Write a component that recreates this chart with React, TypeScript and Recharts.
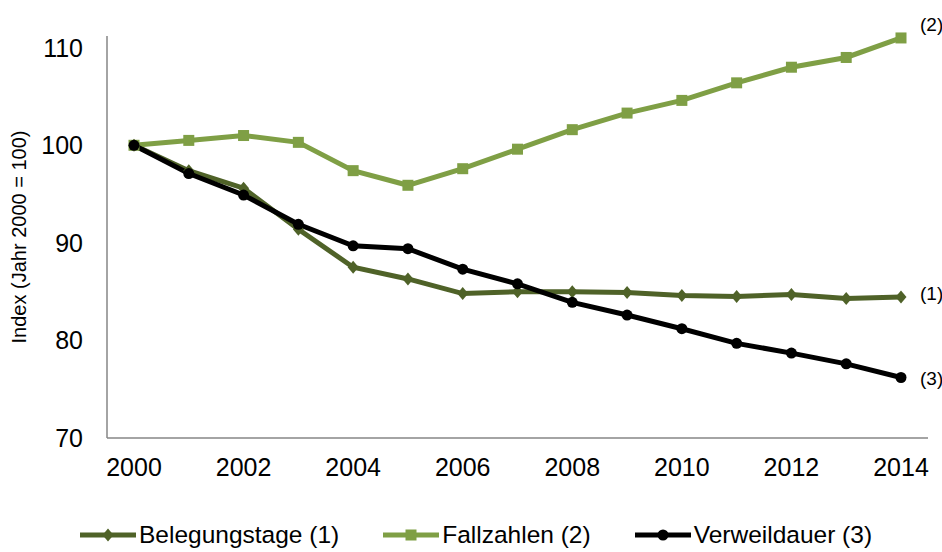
import React from "react";
import { LineChart, Line, XAxis, YAxis, LabelList } from "recharts";

const years = ["2000", "2001", "2002", "2003", "2004", "2005", "2006", "2007", "2008", "2009", "2010", "2011", "2012", "2013", "2014"];
const belegungstage = [100, 97.4, 95.6, 91.4, 87.5, 86.3, 84.8, 85.0, 85.0, 84.9, 84.6, 84.5, 84.7, 84.3, 84.45];
const fallzahlen = [100, 100.5, 101.0, 100.3, 97.4, 95.9, 97.6, 99.6, 101.6, 103.3, 104.6, 106.4, 108.0, 109.0, 111.0];
const verweildauer = [100, 97.1, 94.9, 91.9, 89.7, 89.4, 87.3, 85.8, 83.9, 82.6, 81.2, 79.7, 78.7, 77.6, 76.2];
const yTicks = [70, 80, 90, 100, 110];

const data = years.map((year, i) => ({
    year,
    belegungstage: belegungstage[i],
    fallzahlen: fallzahlen[i],
    verweildauer: verweildauer[i],
}));

const series = [
    { key: "belegungstage", name: "Belegungstage (1)", tag: "(1)", color: "#4F6228", marker: "diamond", dy: -4 },
    { key: "fallzahlen", name: "Fallzahlen (2)", tag: "(2)", color: "#7F9F45", marker: "square", dy: -14 },
    { key: "verweildauer", name: "Verweildauer (3)", tag: "(3)", color: "#000000", marker: "circle", dy: 1 },
];

const FONT = "'Liberation Sans', Arial, sans-serif";

const Marker = ({ cx, cy, type, color }: { cx: number; cy: number; type: string; color: string }) => {
    if (cx == null || cy == null) return null;
    if (type === "square") {
        return <rect x={cx - 5.5} y={cy - 5.5} width={11} height={11} fill={color} />;
    }
    if (type === "diamond") {
        return <path d={`M${cx},${cy - 6.5}L${cx + 5.5},${cy}L${cx},${cy + 6.5}L${cx - 5.5},${cy}Z`} fill={color} />;
    }
    return <circle cx={cx} cy={cy} r={5.5} fill={color} />;
};

// legend drawn as plain html so it doesn't eat into the plot height
const ChartLegend = () => (
    <div
        style={{
            position: "absolute",
            left: 80,
            top: 521,
            display: "flex",
            alignItems: "center",
            fontFamily: FONT,
            fontSize: 24.5,
            color: "#000",
            whiteSpace: "nowrap",
        }}
    >
        {series.map((s, i) => (
            <div key={s.key} style={{ display: "flex", alignItems: "center", marginRight: i < series.length - 1 ? 44 : 0 }}>
                <svg width={56} height={20} style={{ marginRight: 3 }}>
                    <line x1={0} y1={10} x2={56} y2={10} stroke={s.color} strokeWidth={5} />
                    <Marker cx={28} cy={10} type={s.marker} color={s.color} />
                </svg>
                <span>{s.name}</span>
            </div>
        ))}
    </div>
);

const App = () => {
    return (
        <div style={{ position: "absolute", left: 0, top: 0, width: 942, height: 552, background: "#fff", overflow: "hidden" }}>
            <LineChart width={942} height={552} data={data} margin={{ top: 36, right: 14, bottom: 84, left: 0 }}>
                <XAxis
                    dataKey="year"
                    interval={1}
                    padding={{ left: 27, right: 27 }}
                    tickLine={false}
                    tickSize={0}
                    tickMargin={20}
                    axisLine={{ stroke: "#868686", strokeWidth: 1.5 }}
                    tick={{ fill: "#000", fontSize: 25, fontFamily: FONT }}
                />
                <YAxis
                    width={107}
                    domain={[70, 111.2]}
                    ticks={yTicks}
                    tickLine={false}
                    tickSize={0}
                    tickMargin={24}
                    axisLine={{ stroke: "#868686", strokeWidth: 1.5 }}
                    tick={{ fill: "#000", fontSize: 25, fontFamily: FONT }}
                    label={{
                        value: "Index (Jahr 2000 = 100)",
                        angle: -90,
                        position: "insideLeft",
                        offset: 19,
                        style: { textAnchor: "middle", fill: "#000", fontSize: 20, fontFamily: FONT },
                    }}
                />
                {series.map((s) => (
                    <Line
                        key={s.key}
                        dataKey={s.key}
                        name={s.name}
                        stroke={s.color}
                        strokeWidth={5}
                        isAnimationActive={false}
                        dot={(p: any) => <Marker key={`${s.key}-${p.index}`} cx={p.cx} cy={p.cy} type={s.marker} color={s.color} />}
                        activeDot={false}
                    >
                        <LabelList
                            dataKey={s.key}
                            content={(p: any) =>
                                p.index === years.length - 1 ? (
                                    <text x={p.x + 19} y={p.y + s.dy} dy="0.35em" fontSize={19} fontFamily={FONT} fill="#000">
                                        {s.tag}
                                    </text>
                                ) : null
                            }
                        />
                    </Line>
                ))}
            </LineChart>
            <ChartLegend />
        </div>
    );
};

export default App;
